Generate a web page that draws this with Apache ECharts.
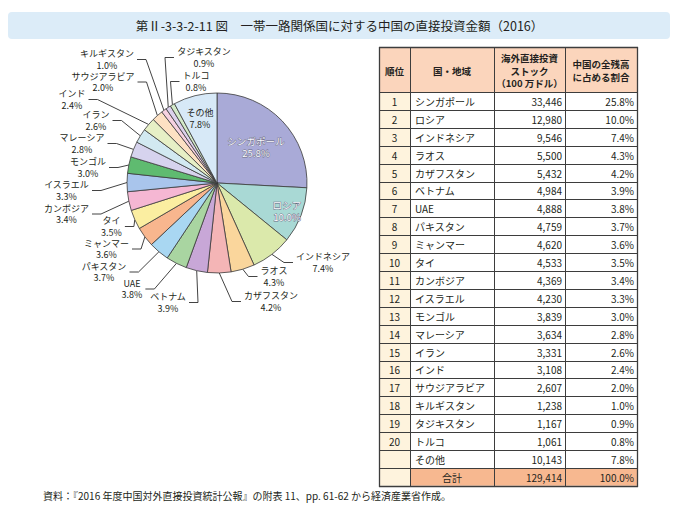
<!DOCTYPE html>
<html><head><meta charset="utf-8">
<script src="https://cdn.jsdelivr.net/npm/echarts@6/dist/echarts.min.js"></script>
<style>html,body{margin:0;padding:0;background:#fff}#c{width:679px;height:512px}</style>
</head><body><div id="c"></div>
<script>
const FONT = '"Noto Sans CJK JP", "Noto Sans", sans-serif';

// ---- data ----
const titleText = '第Ⅱ-3-3-2-11 図　一帯一路関係国に対する中国の直接投資金額（2016）';
const sourceText = '資料：『2016 年度中国対外直接投資統計公報』の附表 11、pp. 61-62 から経済産業省作成。';
const categories = ['シンガポール','ロシア','インドネシア','ラオス','カザフスタン','ベトナム','UAE','パキスタン','ミャンマー','タイ','カンボジア','イスラエル','モンゴル','マレーシア','イラン','インド','サウジアラビア','キルギスタン','タジキスタン','トルコ','その他'];
const stockValues = [33446,12980,9546,5500,5432,4984,4888,4759,4620,4533,4369,4230,3839,3634,3331,3108,2607,1238,1167,1061,10143];
const shares = [25.8,10.0,7.4,4.3,4.2,3.9,3.8,3.7,3.6,3.5,3.4,3.3,3.0,2.8,2.6,2.4,2.0,1.0,0.9,0.8,7.8];
const ranks = ['1','2','3','4','5','6','7','8','9','10','11','12','13','14','15','16','17','18','19','20',''];
const totalLabel = '合計';
const totalValue = 129414;
const totalShare = 100.0;
const headerLabels = ['順位', '国・地域', '海外直接投資\nストック\n（100 万ドル）', '中国の全残高\nに占める割合'];

// ---- styles ----
const sliceColors = ['#a9aad7','#a9d9d5','#dbe9ab','#fad69c','#f4b5b6','#c8a7d7','#a9d5a1','#a9d7f2','#f8b68e','#fbeea1','#f5b7d3','#a9c5ec','#5fbb70','#d6d3ee','#d2e9f1','#e7f0c6','#fde1c3','#f6d1e0','#dcd1ec','#d3eac8','#d7e9f7'];
const insideNames = ['シンガポール','ロシア','その他'];
// label placement (annotation layout, px: centre x, centre y)
const labelPlacement = {
  'シンガポール':[256,147], 'ロシア':[287,211], 'その他':[200,118],
  'インドネシア':[323,262.5], 'ラオス':[274,276.5], 'カザフスタン':[271,301.5],
  'ベトナム':[168,302.5], 'UAE':[132,289], 'パキスタン':[104,272], 'ミャンマー':[106.5,249],
  'タイ':[111.5,226.5], 'カンボジア':[66.5,214], 'イスラエル':[66.5,190.5], 'モンゴル':[88,167.5],
  'マレーシア':[82,143.5], 'イラン':[96,120.5], 'インド':[72,99.5], 'サウジアラビア':[103,82],
  'キルギスタン':[107,59.5], 'タジキスタン':[204,57.5], 'トルコ':[196,81.5]
};
const PIE_C = [217, 183], PIE_R = 90;

const fmtShare = v => v.toFixed(1) + '%';
const fmtNum = v => v.toLocaleString('en-US');

const pieData = categories.map((name, i) => {
  const d = { name, value: stockValues[i], itemStyle: { color: sliceColors[i] } };
  if (insideNames.includes(name)) {
    d.label = { position: 'inside', lineHeight: 12 };
    d.labelLine = { show: false };
    if (name !== 'その他') {
      d.label.color = '#fbfbff';
      d.label.textBorderColor = '#6a6a80';
      d.label.textBorderWidth = 0.8;
      d.label.fontSize = 9.6;
    }
  }
  return d;
});

// cumulative angles for leader-line start (fallback)
const totalSum = stockValues.reduce((a, b) => a + b, 0);
function edgePoint(i) {
  let cum = 0; for (let k = 0; k < i; k++) cum += stockValues[k];
  const mid = (cum + stockValues[i] / 2) / totalSum * Math.PI * 2;
  return [PIE_C[0] + PIE_R * Math.sin(mid), PIE_C[1] - PIE_R * Math.cos(mid)];
}

// ---- table graphic ----
const colX = [379, 410, 494, 565, 637];
const headTop = 47, headBot = 92, rowH = 17.9;
const nRows = categories.length + 1;
const tableBot = headBot + rowH * nRows;
const LINE = '#3d3d3d';
const g = [];
// title
g.push({ type: 'rect', shape: { x: 8, y: 12, width: 662, height: 27, r: 4 }, style: { fill: '#dcecf8' } });
g.push({ type: 'text', style: { text: titleText, x: 339.5, y: 25.5, align: 'center', verticalAlign: 'middle', font: '12.5px ' + FONT, fill: '#231f20' } });
// backgrounds
g.push({ type: 'rect', shape: { x: colX[0], y: headTop, width: colX[4] - colX[0], height: headBot - headTop }, style: { fill: '#fbd5bc' } });
g.push({ type: 'rect', shape: { x: colX[0], y: headBot, width: colX[1] - colX[0], height: tableBot - headBot }, style: { fill: '#fef3dd' } });
g.push({ type: 'rect', shape: { x: colX[1], y: tableBot - rowH, width: colX[4] - colX[1], height: rowH }, style: { fill: '#f7b890' } });
// grid lines
const hy = [headTop, headBot];
for (let r = 1; r <= nRows; r++) hy.push(headBot + rowH * r);
hy.forEach((y, idx) => {
  const yy = Math.round(y) + 0.5;
  const outer = idx === 0 || idx === hy.length - 1;
  g.push({ type: 'line', shape: { x1: colX[0], y1: yy, x2: colX[4] + 1, y2: yy }, style: { stroke: LINE, lineWidth: outer ? 1.3 : 1 } });
});
colX.forEach((x, idx) => {
  const outer = idx === 0 || idx === colX.length - 1;
  g.push({ type: 'line', shape: { x1: x + 0.5, y1: headTop, x2: x + 0.5, y2: Math.round(tableBot) + 1 }, style: { stroke: LINE, lineWidth: outer ? 1.3 : 1 } });
});
// header text
const hStyle = (text, cx, lh) => ({ type: 'text', style: { text, x: cx, y: (headTop + headBot) / 2 + 1, align: 'center', verticalAlign: 'middle', font: 'bold 9.5px ' + FONT, lineHeight: lh, fill: '#231f20' } });
g.push(hStyle(headerLabels[0], (colX[0] + colX[1]) / 2, 12.5));
g.push(hStyle(headerLabels[1], (colX[1] + colX[2]) / 2, 12.5));
g.push(hStyle(headerLabels[2], (colX[2] + colX[3]) / 2, 12.8));
g.push(hStyle(headerLabels[3], (colX[3] + colX[4]) / 2, 12.5));
// body text
const bodyFont = '10px ' + FONT;
function cell(text, x, y, align) {
  g.push({ type: 'text', style: { text, x, y, align, verticalAlign: 'middle', font: bodyFont, fill: '#231f20' } });
}
categories.forEach((name, i) => {
  const y = headBot + rowH * (i + 0.5) + 0.5;
  cell(ranks[i], (colX[0] + colX[1]) / 2, y, 'center');
  cell(name, colX[1] + 5, y, 'left');
  cell(fmtNum(stockValues[i]), colX[3] - 3, y, 'right');
  cell(fmtShare(shares[i]), colX[4] - 3, y, 'right');
});
{
  const y = headBot + rowH * (nRows - 0.5) + 0.5;
  cell(totalLabel, (colX[1] + colX[2]) / 2, y, 'center');
  cell(fmtNum(totalValue), colX[3] - 3, y, 'right');
  cell(fmtShare(totalShare), colX[4] - 3, y, 'right');
}
// source
g.push({ type: 'text', style: { text: sourceText, x: 43, y: 495, align: 'left', verticalAlign: 'middle', font: '10px ' + FONT, fill: '#231f20' } });

const chart = echarts.init(document.getElementById('c'), null, { renderer: 'svg', width: 679, height: 512 });
chart.setOption({
  backgroundColor: '#ffffff',
  animation: false,
  graphic: g,
  series: [{
    type: 'pie',
    center: PIE_C,
    radius: PIE_R,
    startAngle: 90,
    clockwise: true,
    avoidLabelOverlap: false,
    data: pieData,
    itemStyle: { borderColor: '#3a3a3a', borderWidth: 0.8 },
    emphasis: { disabled: true },
    label: {
      show: true,
      fontFamily: FONT,
      fontSize: 9,
      lineHeight: 11.5,
      color: '#231f20',
      formatter: p => p.name + '\n' + fmtShare(shares[p.dataIndex])
    },
    labelLine: { show: true, length: 10, length2: 10, lineStyle: { color: '#2e2e2e', width: 0.9 } },
    labelLayout: function (params) {
      const i = params.dataIndex;
      const name = categories[i];
      const pos = labelPlacement[name];
      const out = { x: pos[0], y: pos[1], align: 'center', verticalAlign: 'middle' };
      if (!insideNames.includes(name)) {
        const e = (params.labelLinePoints && params.labelLinePoints[0]) || edgePoint(i);
        const w = params.labelRect ? params.labelRect.width : 50;
        const rightSide = pos[0] > e[0];
        const ax = rightSide ? pos[0] - w / 2 - 3 : pos[0] + w / 2 + 3;
        const bx = rightSide ? ax - 9 : ax + 9;
        out.labelLinePoints = [[e[0], e[1]], [bx, pos[1]], [ax, pos[1]]];
      }
      return out;
    }
  }]
});
</script></body></html>
